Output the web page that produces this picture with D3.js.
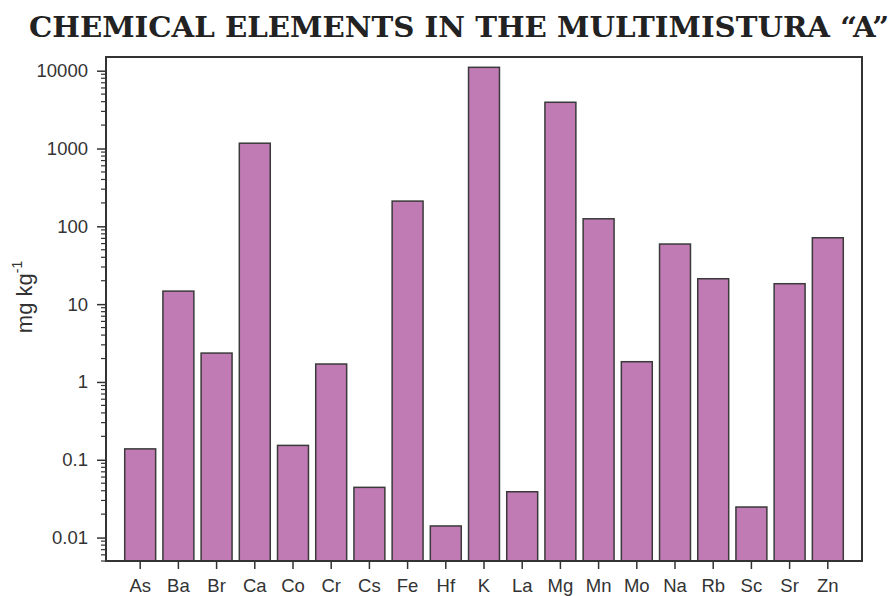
<!DOCTYPE html>
<html><head><meta charset="utf-8">
<script src="https://cdn.jsdelivr.net/npm/d3@7/dist/d3.min.js"></script>
<style>body{margin:0;background:#fff}svg{display:block}</style>
</head><body>
<script>
const categories = ["As","Ba","Br","Ca","Co","Cr","Cs","Fe","Hf","K","La","Mg","Mn","Mo","Na","Rb","Sc","Sr","Zn"];
const values = [0.138,14.7,2.35,1170,0.153,1.70,0.0442,211,0.0141,11050,0.0388,3930,125,1.82,59.2,21.2,0.0247,18.3,71.3];
const yTickValues = [0.01,0.1,1,10,100,1000,10000];
const yTickLabels = ["0.01","0.1","1","10","100","1000","10000"];
const title = "CHEMICAL ELEMENTS IN THE MULTIMISTURA \u201CA\u201D";

const W=895,H=596;
const m={l:106,r:862,t:57,b:561};
const svg=d3.select("body").append("svg").attr("width",W).attr("height",H);

const x=d3.scaleBand().domain(categories).range([m.l,m.r]).paddingInner(0.19).paddingOuter(0.49);
const y=d3.scaleLog().domain([0.005,15000]).range([m.b,m.t]);

// title
svg.append("text").attr("x",459).attr("y",37).attr("text-anchor","middle")
  .attr("font-family","DejaVu Serif, Liberation Serif, serif").attr("font-weight","bold")
  .attr("font-size",28).attr("fill","#222")
  .attr("textLength",860).attr("lengthAdjust","spacingAndGlyphs").text(title);

// bars
svg.append("g").selectAll("rect").data(categories).join("rect")
  .attr("x",d=>x(d)).attr("width",x.bandwidth())
  .attr("y",(d,i)=>y(values[i])).attr("height",(d,i)=>m.b-y(values[i]))
  .attr("fill","#c07ab4").attr("stroke","#3a3a3a").attr("stroke-width",1.5);

// minor ticks
const minor=[];
for(let e=-3;e<=4;e++){for(let k=2;k<=9;k++){const v=k*Math.pow(10,e);if(v>=0.005&&v<=15000)minor.push(v);}}
svg.append("g").selectAll("line").data(minor).join("line")
  .attr("x1",m.l-5).attr("x2",m.l).attr("y1",d=>y(d)).attr("y2",d=>y(d))
  .attr("stroke","#333").attr("stroke-width",1.2);

// y axis major
const yAxis=d3.axisLeft(y).tickValues(yTickValues).tickFormat((d,i)=>yTickLabels[i]).tickSize(9).tickPadding(9);
const gy=svg.append("g").attr("transform",`translate(${m.l},0)`).call(yAxis);
gy.select(".domain").remove();
gy.selectAll("line").attr("stroke","#333").attr("stroke-width",1.5);
gy.selectAll("text").attr("font-family","Liberation Sans, Arial, sans-serif").attr("font-size",18.5).attr("fill","#333");

// x axis
const xAxis=d3.axisBottom(x).tickSize(8).tickPadding(10);
const gx=svg.append("g").attr("transform",`translate(0,${m.b})`).call(xAxis);
gx.select(".domain").remove();
gx.selectAll("line").attr("stroke","#333").attr("stroke-width",1.5);
gx.selectAll("text").attr("font-family","Liberation Sans, Arial, sans-serif").attr("font-size",18.5).attr("fill","#333");

// frame
svg.append("rect").attr("x",m.l).attr("y",m.t).attr("width",m.r-m.l).attr("height",m.b-m.t)
  .attr("fill","none").attr("stroke","#333").attr("stroke-width",2);

// y label
const yl=svg.append("text").attr("transform",`translate(32,297) rotate(-90)`)
  .attr("text-anchor","middle").attr("font-family","Liberation Sans, Arial, sans-serif")
  .attr("font-size",22).attr("fill","#333");
yl.append("tspan").text("mg kg");
yl.append("tspan").attr("dy",-10).attr("font-size",14).text("-1");
</script>
</body></html>
